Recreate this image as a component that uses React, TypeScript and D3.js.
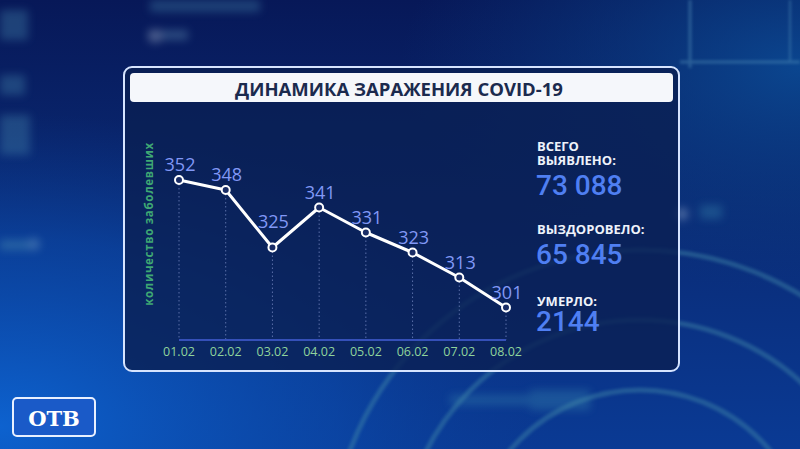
import React from "react";
import * as d3 from "d3";

const dates = ["01.02", "02.02", "03.02", "04.02", "05.02", "06.02", "07.02", "08.02"];
const cases = [352, 348, 325, 341, 331, 323, 313, 301];
const statLabels = [["ВСЕГО", "ВЫЯВЛЕНО:"], ["ВЫЗДОРОВЕЛО:"], ["УМЕРЛО:"]];
const statValues = ["73 088", "65 845", "2144"];
const title = "ДИНАМИКА ЗАРАЖЕНИЯ COVID-19";
const yTitle = "количество заболевших";

const W = 800;
const H = 449;

export default function App() {
  const x = d3.scalePoint<string>().domain(dates).range([179, 506]);
  const y = d3.scaleLinear().domain([288, 352]).range([340, 180]);
  const pts = cases.map((v, i) => ({ d: dates[i], v, i }));
  const line = d3
    .line<{ d: string; v: number }>()
    .x((p) => x(p.d) as number)
    .y((p) => y(p.v));

  const isMin = (i: number) =>
    i > 0 && i < cases.length - 1 && cases[i] < cases[i - 1] && cases[i] < cases[i + 1];

  // baseline of the first label line of each block, and gap to the value baseline
  const statBlocks = [
    { top: 151, valueGap: 30 },
    { top: 234, valueGap: 30 },
    { top: 306, valueGap: 25 },
  ];

  const arcs = [
    { cx: 640, cy: 560, r: 170 },
    { cx: 640, cy: 560, r: 240 },
    { cx: 640, cy: 560, r: 310 },
  ];

  return (
    <svg
      width={W}
      height={H}
      viewBox={`0 0 ${W} ${H}`}
      style={{ position: "absolute", left: 0, top: 0, display: "block" }}
      fontFamily="'Open Sans', 'Noto Sans', sans-serif"
    >
      <defs>
        <linearGradient id="bgv" x1="0" y1="0" x2="0" y2="1">
          <stop offset="0" stopColor="#071858" />
          <stop offset="0.45" stopColor="#0a2a74" />
          <stop offset="1" stopColor="#0a3a94" />
        </linearGradient>
        <radialGradient id="bgl" cx="0" cy="0.95" r="0.7">
          <stop offset="0" stopColor="#0d62cf" stopOpacity="1" />
          <stop offset="0.6" stopColor="#0b4db0" stopOpacity="0.55" />
          <stop offset="1" stopColor="#0a3a90" stopOpacity="0" />
        </radialGradient>
        <radialGradient id="bgr" cx="1" cy="0.15" r="0.5">
          <stop offset="0" stopColor="#0b4a94" stopOpacity="0.9" />
          <stop offset="1" stopColor="#0b3a80" stopOpacity="0" />
        </radialGradient>
        <filter id="blur4" x="-50%" y="-50%" width="200%" height="200%">
          <feGaussianBlur stdDeviation="4" />
        </filter>
        <filter id="blur2" x="-50%" y="-50%" width="200%" height="200%">
          <feGaussianBlur stdDeviation="1.5" />
        </filter>
      </defs>

      <rect x={0} y={0} width={W} height={H} fill="url(#bgv)" />
      <rect x={0} y={0} width={W} height={H} fill="url(#bgr)" />
      <rect x={0} y={0} width={W} height={H} fill="url(#bgl)" />
      <g filter="url(#blur4)" opacity={0.35}>
        <rect x={0} y={10} width={28} height={30} fill="#4a8cb0" />
        <rect x={0} y={75} width={25} height={20} fill="#4a8cb0" />
        <rect x={0} y={115} width={30} height={40} fill="#4a8cb0" />
        <rect x={148} y={30} width={40} height={10} fill="#6ea0c0" />
        <circle cx={155} cy={36} r={7} fill="#c0d0e0" />
        <rect x={150} y={0} width={110} height={12} fill="#4a8cb0" />
        <rect x={0} y={240} width={38} height={10} fill="#5aa0b8" />
        <circle cx={34} cy={244} r={6} fill="#8ab8d0" />
        <circle cx={682} cy={214} r={6} fill="#d0e0f0" />
        <rect x={700} y={205} width={22} height={14} fill="#3a8ab0" />
        <rect x={530} y={390} width={60} height={20} fill="#3a8ab0" />
        <rect x={450} y={395} width={80} height={10} fill="#3a8ab0" />
      </g>
      <g opacity={0.4} filter="url(#blur2)">
        <line x1={690} y1={0} x2={690} y2={68} stroke="#5a9ac0" strokeWidth={3} />
        <line x1={680} y1={62} x2={800} y2={62} stroke="#5a9ac0" strokeWidth={3} />
        <line x1={790} y1={0} x2={790} y2={62} stroke="#5a9ac0" strokeWidth={2} />
      </g>
      <g fill="none" stroke="#3f86a8" strokeWidth={5} opacity={0.45} filter="url(#blur2)">
        {arcs.map((a, i) => (
          <circle key={i} cx={a.cx} cy={a.cy} r={a.r} />
        ))}
      </g>

      <rect
        x={124}
        y={67}
        width={555}
        height={304}
        rx={8}
        fill="#0a1f52"
        fillOpacity={0.8}
        stroke="#d6e4ff"
        strokeWidth={2}
      />
      <rect x={130} y={73} width={543} height={29} rx={4} fill="#f5f7fb" />
      <text
        x={399}
        y={88}
        textAnchor="middle"
        dominantBaseline="central"
        fontSize={18.5}
        fontWeight={700}
        fill="#1b2a4e"
      >
        {title}
      </text>

      <text
        transform="translate(148,224) rotate(-90)"
        textAnchor="middle"
        dominantBaseline="central"
        fontSize={11.5}
        fontWeight={700}
        fill="#3fa874"
        letterSpacing={0.7}
      >
        {yTitle}
      </text>

      {pts.map((p) => (
        <line
          key={"g" + p.d}
          x1={x(p.d)}
          x2={x(p.d)}
          y1={y(p.v)}
          y2={y.range()[0]}
          stroke="#5a6fa8"
          strokeWidth={1}
          strokeDasharray="1.5 2.5"
        />
      ))}
      <line
        x1={x(dates[0])}
        x2={x(dates[dates.length - 1])}
        y1={y.range()[0]}
        y2={y.range()[0]}
        stroke="#3550b8"
        strokeWidth={2}
      />
      {dates.map((d) => (
        <text key={"x" + d} x={x(d)} y={356} textAnchor="middle" fontSize={12.5} fill="#8fd49c">
          {d}
        </text>
      ))}

      <path d={line(pts) as string} fill="none" stroke="#ffffff" strokeWidth={3} strokeLinejoin="round" />
      {pts.map((p) => (
        <circle
          key={"c" + p.d}
          cx={x(p.d)}
          cy={y(p.v)}
          r={4}
          fill="#1a2d66"
          stroke="#ffffff"
          strokeWidth={2}
        />
      ))}
      {pts.map((p) => (
        <text
          key={"v" + p.d}
          x={(x(p.d) as number) + 1}
          y={y(p.v) - (isMin(p.i) ? 20 : 9)}
          textAnchor="middle"
          fontSize={18}
          fill="#8198f6"
        >
          {p.v}
        </text>
      ))}

      {statBlocks.map((b, i) => (
        <text key={"s" + i} x={537} y={b.top}>
          {statLabels[i].map((l, j) => (
            <tspan
              key={j}
              x={537}
              dy={j === 0 ? 0 : 14}
              fontSize={13}
              fontWeight={700}
              fill="#eef2fa"
            >
              {l}
            </tspan>
          ))}
          <tspan
            x={536}
            dy={b.valueGap}
            fontSize={28}
            fontWeight={500}
            fontFamily="Roboto, 'Open Sans', sans-serif"
            fill="#4f7ff2"
          >
            {statValues[i]}
          </tspan>
        </text>
      ))}

      <rect x={13} y={398} width={82} height={38} rx={4} fill="#1a5ac8" stroke="#e8f0ff" strokeWidth={2} />
      <text
        x={54}
        y={418}
        textAnchor="middle"
        dominantBaseline="central"
        fontSize={21}
        fontWeight={700}
        fontFamily="'DejaVu Serif', serif"
        fill="#ffffff"
      >
        ОТВ
      </text>
    </svg>
  );
}
